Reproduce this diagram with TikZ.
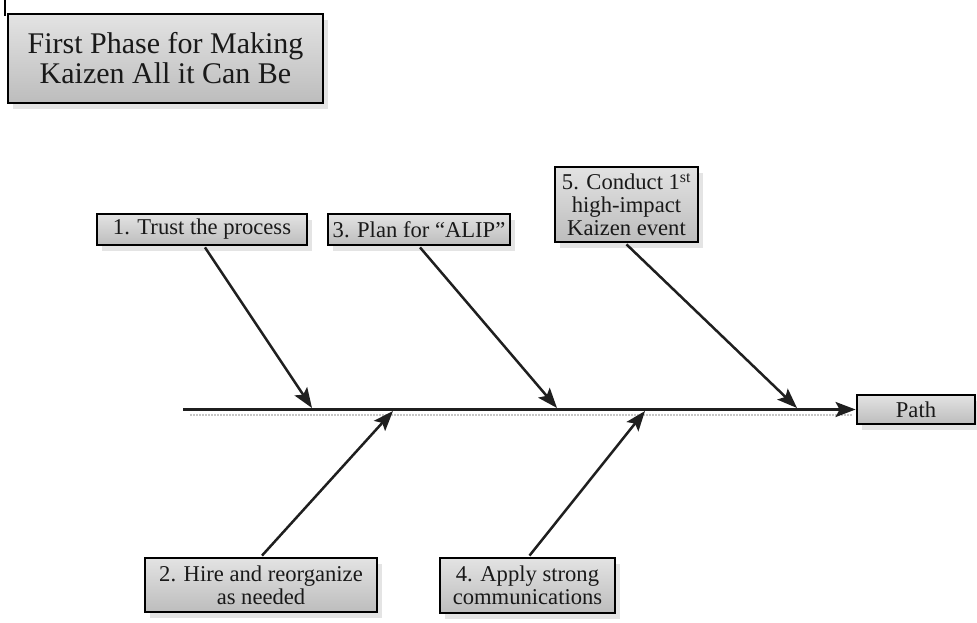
\documentclass[tikz,border=0pt]{standalone}
\usepackage{fontspec}
\setmainfont{Liberation Serif}
\usetikzlibrary{arrows.meta,shadows}

\tikzset{
  boxbase/.style={draw=black, line width=2.8pt, top color=gray!22, bottom color=gray!52,
    inner sep=0pt, align=center, text=black!90,
    drop shadow={shadow xshift=5pt, shadow yshift=-6pt, fill=gray!35, opacity=0.6}},
  cause/.style={boxbase, font=\fontsize{22.6}{23}\selectfont},
  headbox/.style={boxbase, font=\fontsize{30}{30}\selectfont},
  bone/.style={draw=black!88, line width=2.5pt,
    -{Stealth[length=20pt,width=15pt,inset=4pt]}},
  boneshadow/.style={draw=gray!45, line width=1.6pt, dash pattern=on 1.5pt off 1.5pt}
}

\begin{document}
\begin{tikzpicture}[x=1pt,y=-1pt]
  \useasboundingbox (0,0) rectangle (977,623);

  % corner mark above the heading
  \draw[line width=1.4pt] (5,0) -- (5,16);

  % heading
  \node[headbox, minimum width=315pt, minimum height=89pt] (title) at (165.5,58.5)
    {First Phase for Making\\Kaizen All it Can Be};

  % cause boxes
  \node[cause, minimum width=210pt, minimum height=31pt] (c1) at (202,229.5)
    {1. Trust the process};
  \node[cause, minimum width=182pt, minimum height=31pt] (c3) at (419,229.5)
    {3. Plan for “ALIP”};
  \node[cause, minimum width=143pt, minimum height=75pt] (c5) at (626.5,204.5)
    {5. Conduct 1\textsuperscript{st}\\high-impact\\Kaizen event};
  \node[cause, minimum width=232pt, minimum height=54pt] (c2) at (261,585)
    {2. Hire and reorganize\\as needed};
  \node[cause, minimum width=175pt, minimum height=55pt] (c4) at (527.5,585.5)
    {4. Apply strong\\communications};

  % effect box
  \node[cause, minimum width=118pt, minimum height=29pt] (path) at (916,409.5) {Path};

  % spine points
  \coordinate (s0) at (183,409.5);
  \coordinate (sh0) at (190,415);
  \coordinate (sh1) at (852,415);
  \coordinate (j1) at (312,408);
  \coordinate (j3) at (557,408);
  \coordinate (j5) at (797,408);
  \coordinate (j2) at (393,411);
  \coordinate (j4) at (645,411);

  % spine
  \draw[boneshadow] (sh0) -- (sh1);
  \draw[bone] (s0) -- (path.west);

  % branches
  \draw[bone] (c1.south) ++(3,1) -- (j1);
  \draw[bone] (c3.south) ++(1,1) -- (j3);
  \draw[bone] (c5.south) ++(0,1) -- (j5);
  \draw[bone] (c2.north) ++(1,-1) -- (j2);
  \draw[bone] (c4.north) ++(2,-1) -- (j4);
\end{tikzpicture}
\end{document}
